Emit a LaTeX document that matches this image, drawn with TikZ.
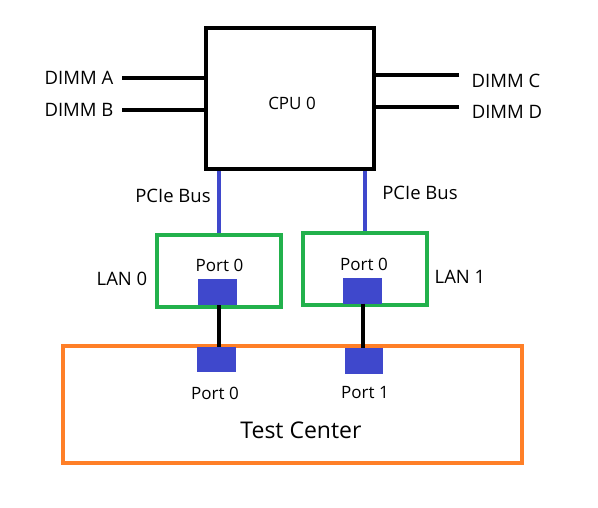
\documentclass[tikz,border=0pt]{standalone}
\usepackage{fontspec}
\setmainfont{Open Sans}
\definecolor{portblue}{HTML}{3F48CC}
\definecolor{langreen}{HTML}{22B14C}
\definecolor{tcorange}{HTML}{FF7F27}
\begin{document}
\begin{tikzpicture}[x=1pt,y=-1pt,
  lbl/.style={inner sep=0pt,font=\fontsize{18.5}{22}\selectfont},
  plbl/.style={inner sep=0pt,font=\fontsize{17}{20}\selectfont},
  bigl/.style={inner sep=0pt,font=\fontsize{23}{27}\selectfont},
  box/.style={draw,line width=4pt,inner sep=0pt},
  portsq/.style={fill=portblue,draw=none,inner sep=0pt,minimum width=39pt,minimum height=26pt},
  wire/.style={line width=4pt},
  bus/.style={line width=3.5pt,draw=portblue}]
\useasboundingbox[fill=white] (0,0) rectangle (598,507);
% CPU
\node[box,minimum width=168pt,minimum height=141pt] (cpu) at (290,98.5) {};
\node[plbl] (cpulbl) at (292,103) {CPU 0};
% DIMMs
\node[lbl] (dimmA) at (79,78) {DIMM A};
\node[lbl] (dimmB) at (79,110) {DIMM B};
\node[lbl] (dimmC) at (506,81) {DIMM C};
\node[lbl] (dimmD) at (507,112) {DIMM D};
\coordinate (a1) at (122,78);
\coordinate (b1) at (122,110);
\coordinate (c1) at (459,75);
\coordinate (d1) at (459,107);
\draw[wire] (a1) -- (a1 -| cpu.west);
\draw[wire] (b1) -- (b1 -| cpu.west);
\draw[wire] (c1) -- (c1 -| cpu.east);
\draw[wire] (d1) -- (d1 -| cpu.east);
% LAN cards
\node[box,draw=langreen,minimum width=124pt,minimum height=72pt] (lan0) at (219,271) {};
\node[box,draw=langreen,minimum width=124pt,minimum height=72pt] (lan1) at (365,269) {};
\node[lbl] (lan0lbl) at (122,279) {LAN 0};
\node[lbl] (lan1lbl) at (460,277) {LAN 1};
\node[plbl] (lan0port) at (219.5,265) {Port 0};
\node[plbl] (lan1port) at (364,264) {Port 0};
\node[portsq] (sq0) at (217.5,292) {};
\node[portsq] (sq1) at (362.5,290.5) {};
% PCIe buses
\coordinate (p0) at (219,169);
\coordinate (p1) at (365,169);
\draw[bus] (p0 |- cpu.south) -- (p0 |- lan0.north);
\draw[bus] (p1 |- cpu.south) -- (p1 |- lan1.north);
\node[lbl] (pcie0) at (173,196) {PCIe Bus};
\node[lbl] (pcie1) at (420,193) {PCIe Bus};
% Test center
\node[box,draw=tcorange,minimum width=459pt,minimum height=117pt] (tc) at (292.5,404.5) {};
\node[portsq,minimum height=25pt] (tsq0) at (216.5,359.5) {};
\node[portsq,minimum width=38pt] (tsq1) at (364,361) {};
\node[plbl] (tp0) at (215,393) {Port 0};
\node[plbl] (tp1) at (365,393) {Port 1};
\node[bigl] (tclbl) at (301,430) {Test Center};
% cables
\draw[wire] (219,0 |- sq0.south) -- (219,0 |- tsq0.north);
\draw[wire] (363,0 |- sq1.south) -- (363,0 |- tsq1.north);
\end{tikzpicture}
\end{document}
